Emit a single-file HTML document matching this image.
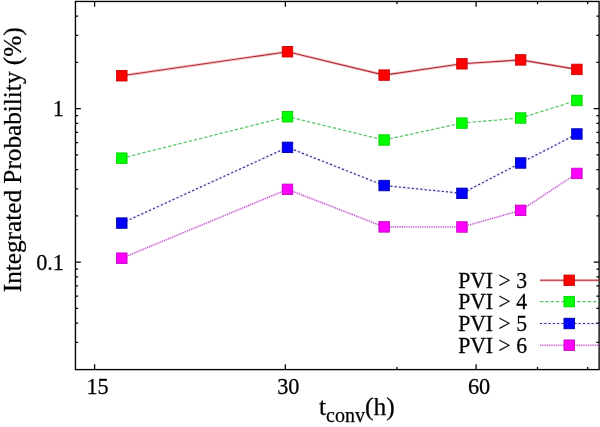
<!DOCTYPE html>
<html><head><meta charset="utf-8"><style>
html,body{margin:0;padding:0;background:#fff;width:600px;height:427px;overflow:hidden}
svg{display:block;will-change:transform}
text{font-family:"Liberation Serif",serif;fill:#000;stroke:#000;stroke-width:0.25px}
</style></head><body>
<svg width="600" height="427" viewBox="0 0 600 427">
<rect x="0" y="0" width="600" height="427" fill="#fff"/>
<path d="M75.45,108.55h5.4M599.1,108.55h-5.4M75.45,262.05h5.4M599.1,262.05h-5.4M75.45,342.31h2.7M599.1,342.31h-2.7M75.45,323.13h2.7M599.1,323.13h-2.7M75.45,308.26h2.7M599.1,308.26h-2.7M75.45,296.10h2.7M599.1,296.10h-2.7M75.45,285.83h2.7M599.1,285.83h-2.7M75.45,276.93h2.7M599.1,276.93h-2.7M75.45,269.07h2.7M599.1,269.07h-2.7M75.45,215.84h2.7M599.1,215.84h-2.7M75.45,188.81h2.7M599.1,188.81h-2.7M75.45,169.63h2.7M599.1,169.63h-2.7M75.45,154.76h2.7M599.1,154.76h-2.7M75.45,142.60h2.7M599.1,142.60h-2.7M75.45,132.33h2.7M599.1,132.33h-2.7M75.45,123.43h2.7M599.1,123.43h-2.7M75.45,115.57h2.7M599.1,115.57h-2.7M75.45,62.34h2.7M599.1,62.34h-2.7M75.45,35.31h2.7M599.1,35.31h-2.7M75.45,16.13h2.7M599.1,16.13h-2.7M94.60,369.6v-5.4M94.60,1.45v5.4M285.35,369.6v-5.4M285.35,1.45v5.4M476.10,369.6v-5.4M476.10,1.45v5.4M396.93,369.6v-2.7M396.93,1.45v2.7M537.51,369.6v-2.7M537.51,1.45v2.7M587.68,369.6v-2.7M587.68,1.45v2.7" stroke="#000" stroke-width="1.25" fill="none"/>
<rect x="75.45" y="1.45" width="523.65" height="368.15" stroke="#000" stroke-width="1.35" fill="none"/>
<path d="M121.8,75.75L287.5,51.75L384.15,75.1L461.95,63.8L520.65,59.9L576.9,69.4" fill="none" stroke="#ff3030" stroke-opacity="0.3" stroke-width="2.8"/><path d="M121.8,75.75L287.5,51.75L384.15,75.1L461.95,63.8L520.65,59.9L576.9,69.4" fill="none" stroke="#a83040" stroke-width="1.1"/>
<path d="M121.8,158.15L287.5,116.75L384.15,140.0L461.95,123.1L520.65,118.0L576.9,100.45" fill="none" stroke="#5cc868" stroke-width="1.3" stroke-dasharray="3.4 1.9"/>
<path d="M121.8,223.1L287.5,147.35L384.15,185.55L461.95,193.35L520.65,163.0L576.9,134.0" fill="none" stroke="#3030ff" stroke-opacity="0.07" stroke-width="2.6"/><path d="M121.8,223.1L287.5,147.35L384.15,185.55L461.95,193.35L520.65,163.0L576.9,134.0" fill="none" stroke="#2a2a88" stroke-width="1.2" stroke-dasharray="2 2.3"/>
<path d="M121.8,258.2L287.5,189.35L384.15,226.9L461.95,227.0L520.65,210.35L576.9,173.45" fill="none" stroke="#ff40ff" stroke-opacity="0.2" stroke-width="2.3"/><path d="M121.8,258.2L287.5,189.35L384.15,226.9L461.95,227.0L520.65,210.35L576.9,173.45" fill="none" stroke="#9040a8" stroke-width="1.1" stroke-dasharray="1 1.28"/>
<path d="M540,280.3H599" fill="none" stroke="#ff3030" stroke-opacity="0.3" stroke-width="2.8"/><path d="M540,280.3H599" fill="none" stroke="#a83040" stroke-width="1.1"/>
<path d="M540,301.6H599" fill="none" stroke="#5cc868" stroke-width="1.3" stroke-dasharray="3.4 1.9"/>
<path d="M540,323.5H599" fill="none" stroke="#3030ff" stroke-opacity="0.07" stroke-width="2.6"/><path d="M540,323.5H599" fill="none" stroke="#2a2a88" stroke-width="1.2" stroke-dasharray="2 2.3"/>
<path d="M540,345.2H599" fill="none" stroke="#ff40ff" stroke-opacity="0.2" stroke-width="2.3"/><path d="M540,345.2H599" fill="none" stroke="#9040a8" stroke-width="1.1" stroke-dasharray="1 1.28"/>
<rect x="116.58" y="70.53" width="10.45" height="10.45" fill="#ff0000" stroke="#c80000" stroke-width="0.9"/>
<rect x="282.27" y="46.53" width="10.45" height="10.45" fill="#ff0000" stroke="#c80000" stroke-width="0.9"/>
<rect x="378.92" y="69.88" width="10.45" height="10.45" fill="#ff0000" stroke="#c80000" stroke-width="0.9"/>
<rect x="456.72" y="58.58" width="10.45" height="10.45" fill="#ff0000" stroke="#c80000" stroke-width="0.9"/>
<rect x="515.43" y="54.68" width="10.45" height="10.45" fill="#ff0000" stroke="#c80000" stroke-width="0.9"/>
<rect x="571.68" y="64.18" width="10.45" height="10.45" fill="#ff0000" stroke="#c80000" stroke-width="0.9"/>
<rect x="563.98" y="275.07" width="10.45" height="10.45" fill="#ff0000" stroke="#c80000" stroke-width="0.9"/>
<rect x="116.58" y="152.92" width="10.45" height="10.45" fill="#00ff00" stroke="#00d000" stroke-width="0.9"/>
<rect x="282.27" y="111.53" width="10.45" height="10.45" fill="#00ff00" stroke="#00d000" stroke-width="0.9"/>
<rect x="378.92" y="134.77" width="10.45" height="10.45" fill="#00ff00" stroke="#00d000" stroke-width="0.9"/>
<rect x="456.72" y="117.88" width="10.45" height="10.45" fill="#00ff00" stroke="#00d000" stroke-width="0.9"/>
<rect x="515.43" y="112.78" width="10.45" height="10.45" fill="#00ff00" stroke="#00d000" stroke-width="0.9"/>
<rect x="571.68" y="95.23" width="10.45" height="10.45" fill="#00ff00" stroke="#00d000" stroke-width="0.9"/>
<rect x="563.98" y="296.38" width="10.45" height="10.45" fill="#00ff00" stroke="#00d000" stroke-width="0.9"/>
<rect x="116.58" y="217.87" width="10.45" height="10.45" fill="#0000ff" stroke="#0000a8" stroke-width="0.9"/>
<rect x="282.27" y="142.12" width="10.45" height="10.45" fill="#0000ff" stroke="#0000a8" stroke-width="0.9"/>
<rect x="378.92" y="180.32" width="10.45" height="10.45" fill="#0000ff" stroke="#0000a8" stroke-width="0.9"/>
<rect x="456.72" y="188.12" width="10.45" height="10.45" fill="#0000ff" stroke="#0000a8" stroke-width="0.9"/>
<rect x="515.43" y="157.77" width="10.45" height="10.45" fill="#0000ff" stroke="#0000a8" stroke-width="0.9"/>
<rect x="571.68" y="128.77" width="10.45" height="10.45" fill="#0000ff" stroke="#0000a8" stroke-width="0.9"/>
<rect x="563.98" y="318.27" width="10.45" height="10.45" fill="#0000ff" stroke="#0000a8" stroke-width="0.9"/>
<rect x="116.58" y="252.97" width="10.45" height="10.45" fill="#ff00ff" stroke="#c000c0" stroke-width="0.9"/>
<rect x="282.27" y="184.12" width="10.45" height="10.45" fill="#ff00ff" stroke="#c000c0" stroke-width="0.9"/>
<rect x="378.92" y="221.67" width="10.45" height="10.45" fill="#ff00ff" stroke="#c000c0" stroke-width="0.9"/>
<rect x="456.72" y="221.77" width="10.45" height="10.45" fill="#ff00ff" stroke="#c000c0" stroke-width="0.9"/>
<rect x="515.43" y="205.12" width="10.45" height="10.45" fill="#ff00ff" stroke="#c000c0" stroke-width="0.9"/>
<rect x="571.68" y="168.22" width="10.45" height="10.45" fill="#ff00ff" stroke="#c000c0" stroke-width="0.9"/>
<rect x="563.98" y="339.97" width="10.45" height="10.45" fill="#ff00ff" stroke="#c000c0" stroke-width="0.9"/>
<text transform="translate(527.00,287.60) scale(1.0,1.04)" text-anchor="end" font-size="21.7">PVI &gt; 3</text>
<text transform="translate(527.00,308.90) scale(1.0,1.04)" text-anchor="end" font-size="21.7">PVI &gt; 4</text>
<text transform="translate(527.00,330.80) scale(1.0,1.04)" text-anchor="end" font-size="21.7">PVI &gt; 5</text>
<text transform="translate(527.00,352.50) scale(1.0,1.04)" text-anchor="end" font-size="21.7">PVI &gt; 6</text>
<text transform="translate(64.00,116.20) scale(1.0,1.04)" text-anchor="end" font-size="22.3">1</text>
<text transform="translate(64.00,269.70) scale(1.0,1.04)" text-anchor="end" font-size="22.3">0.1</text>
<text transform="translate(97.60,393.70) scale(1.0,1.04)" text-anchor="middle" font-size="22.3">15</text>
<text transform="translate(288.35,393.70) scale(1.0,1.04)" text-anchor="middle" font-size="22.3">30</text>
<text transform="translate(479.10,393.70) scale(1.0,1.04)" text-anchor="middle" font-size="22.3">60</text>
<text transform="translate(21.10,159.80) rotate(-90) scale(0.99,1.0)" text-anchor="middle" font-size="25.5">Integrated Probability (%)</text>
<text transform="translate(319,415.4)" font-size="25.5">t<tspan font-size="20" dy="7">conv</tspan><tspan dy="-7">(h)</tspan></text>
</svg></body></html>
